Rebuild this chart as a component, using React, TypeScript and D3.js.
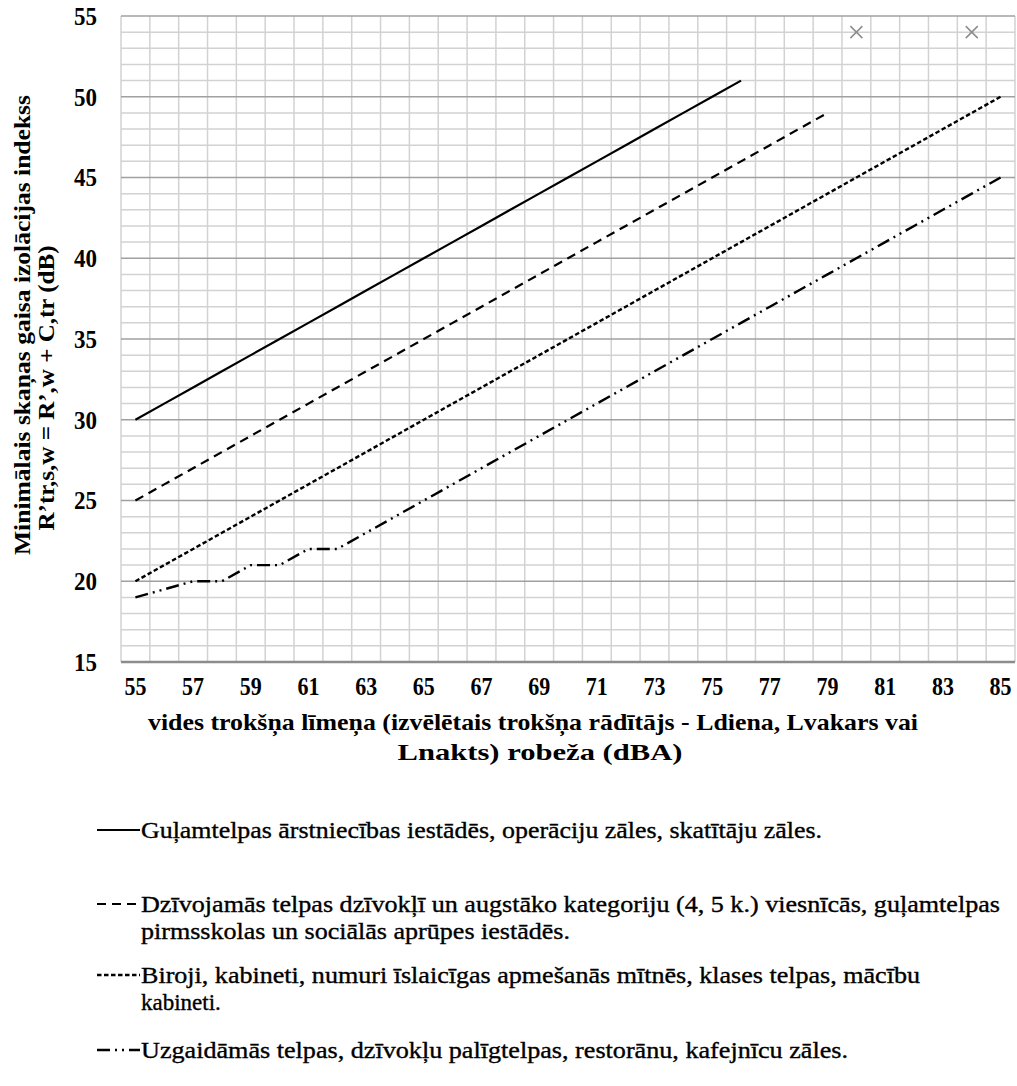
import React from 'react';
import * as d3 from 'd3';

// x categories: vides trokšņa līmenis (dBA)
const categories = [55, 56, 57, 58, 59, 60, 61, 62, 63, 64, 65, 66, 67, 68, 69, 70, 71, 72, 73, 74, 75, 76, 77, 78, 79, 80, 81, 82, 83, 84, 85];
const xTickLabels = [55, 57, 59, 61, 63, 65, 67, 69, 71, 73, 75, 77, 79, 81, 83, 85];
const yTicks = [15, 20, 25, 30, 35, 40, 45, 50, 55];

const guljamtelpas = [30, 31, 32, 33, 34, 35, 36, 37, 38, 39, 40, 41, 42, 43, 44, 45, 46, 47, 48, 49, 50, 51];
const dzivojamas = [25, 26, 27, 28, 29, 30, 31, 32, 33, 34, 35, 36, 37, 38, 39, 40, 41, 42, 43, 44, 45, 46, 47, 48, 49];
const biroji = [20, 21, 22, 23, 24, 25, 26, 27, 28, 29, 30, 31, 32, 33, 34, 35, 36, 37, 38, 39, 40, 41, 42, 43, 44, 45, 46, 47, 48, 49, 50];
const uzgaidamas = [19, 19.5, 20, 20, 21, 21, 22, 22, 23, 24, 25, 26, 27, 28, 29, 30, 31, 32, 33, 34, 35, 36, 37, 38, 39, 40, 41, 42, 43, 44, 45];
// stray marker series at the top of the plot
const markerX = [80, 84];
const markerY = [54, 54];

const legendLabels = [
  ['Guļamtelpas ārstniecības iestādēs, operāciju zāles, skatītāju zāles.'],
  ['Dzīvojamās telpas dzīvokļī un augstāko kategoriju (4, 5 k.) viesnīcās, guļamtelpas', 'pirmsskolas un sociālās aprūpes iestādēs.'],
  ['Biroji, kabineti, numuri īslaicīgas apmešanās mītnēs, klases telpas, mācību', 'kabineti.'],
  ['Uzgaidāmās telpas, dzīvokļu palīgtelpas, restorānu, kafejnīcu zāles.'],
];

const series = [
  { values: guljamtelpas, dash: undefined, width: 2.2 },
  { values: dzivojamas, dash: '9 6', width: 2.2 },
  { values: biroji, dash: '4.5 2.5', width: 2.4 },
  { values: uzgaidamas, dash: '13 5 2 5 2 5', width: 2.4 },
];

const FONT = '"Liberation Serif", "Times New Roman", serif';

export default function App() {
  const margin = { top: 16, left: 121, right: 1015, bottom: 662 };

  const x = d3.scaleBand<number>()
    .domain(categories)
    .range([margin.left, margin.right])
    .padding(0);
  const cx = (v: number) => (x(v) as number) + x.bandwidth() / 2;

  const y = d3.scaleLinear().domain([15, 55]).range([margin.bottom, margin.top]);

  const line = d3.line<number>()
    .x((_, i) => cx(categories[i]))
    .y(d => y(d));

  const minorY = d3.range(15, 56, 1);
  const bandEdges = categories.map(c => x(c) as number).concat([margin.right]);

  // legend layout: first-line baselines and text widths per line (0 = natural width)
  const legendRows = [838, 912, 983, 1058];
  const legendLines = [[681], [859, 429], [779, 0], [707]];

  return (
    <div style={{ position: 'absolute', left: 0, top: 0 }}>
      <svg width={1017} height={1086} style={{ display: 'block', background: '#fff', fontFamily: FONT }}>
        {/* minor horizontal grid */}
        {minorY.filter(v => v % 5 !== 0).map(v => (
          <line key={'h' + v} x1={margin.left} x2={margin.right} y1={y(v)} y2={y(v)} stroke="#d2d2d2" strokeWidth={1.5} />
        ))}
        {/* vertical grid at category boundaries */}
        {bandEdges.map((e, i) => (
          <line key={'v' + i} x1={e} x2={e} y1={margin.top} y2={margin.bottom} stroke="#d2d2d2" strokeWidth={1.5} />
        ))}
        {/* major horizontal grid */}
        {yTicks.filter(v => v !== 15).map(v => (
          <line key={'m' + v} x1={margin.left} x2={margin.right} y1={y(v)} y2={y(v)} stroke="#a0a0a0" strokeWidth={1.5} />
        ))}
        <line x1={margin.left} x2={margin.right} y1={y(15)} y2={y(15)} stroke="#8c8c8c" strokeWidth={2.5} />

        {/* y tick labels */}
        {yTicks.map(v => (
          <text key={'yl' + v} x={97} y={y(v)} dy="0.35em" textAnchor="end" fontSize={25} fontWeight="bold"
            textLength={23} lengthAdjust="spacingAndGlyphs">{v}</text>
        ))}
        {/* x tick labels */}
        {xTickLabels.map(v => (
          <text key={'xl' + v} x={cx(v)} y={686} dy="0.35em" textAnchor="middle" fontSize={25} fontWeight="bold"
            textLength={22} lengthAdjust="spacingAndGlyphs">{v}</text>
        ))}

        {/* series */}
        {series.map((s, i) => (
          <path key={'s' + i} d={line(s.values) as string} fill="none" stroke="#000" strokeWidth={s.width}
            strokeDasharray={s.dash} />
        ))}
        {markerX.map((mx, i) => {
          const px = cx(mx), py = y(markerY[i]);
          return (
            <path key={'x' + i} d={`M${px - 6},${py - 6}L${px + 6},${py + 6}M${px - 6},${py + 6}L${px + 6},${py - 6}`}
              stroke="#8c8c8c" strokeWidth={1.5} fill="none" />
          );
        })}

        {/* y axis title */}
        <g transform="translate(30,325) rotate(-90)">
          <text textAnchor="middle" fontSize={24} fontWeight="bold" textLength={460} lengthAdjust="spacingAndGlyphs">
            Minimālais skaņas gaisa izolācijas indekss
          </text>
        </g>
        <g transform="translate(54,388) rotate(-90)">
          <text textAnchor="middle" fontSize={24} fontWeight="bold" textLength={285} lengthAdjust="spacingAndGlyphs">
            R’tr,s,w = R’,w + C,tr (dB)
          </text>
        </g>

        {/* x axis title */}
        <text x={533} y={730} textAnchor="middle" fontSize={24} fontWeight="bold" textLength={770} lengthAdjust="spacingAndGlyphs">
          vides trokšņa līmeņa (izvēlētais trokšņa rādītājs - Ldiena, Lvakars vai
        </text>
        <text x={540} y={760} textAnchor="middle" fontSize={24} fontWeight="bold" textLength={285} lengthAdjust="spacingAndGlyphs">
          Lnakts) robeža  (dBA)
        </text>

        {/* legend */}
        {series.map((s, i) => (
          <g key={'lg' + i}>
            <line x1={97} x2={140} y1={legendRows[i] - 8} y2={legendRows[i] - 8} stroke="#000" strokeWidth={s.width}
              strokeDasharray={s.dash} />
            {legendLabels[i].map((t, j) => (
              <text key={j} x={141} y={legendRows[i] + j * 27} fontSize={23} stroke="#000" strokeWidth={0.35}
                textLength={legendLines[i][j] || undefined}
                lengthAdjust={legendLines[i][j] ? 'spacingAndGlyphs' : undefined}>{t}</text>
            ))}
          </g>
        ))}
      </svg>
    </div>
  );
}
